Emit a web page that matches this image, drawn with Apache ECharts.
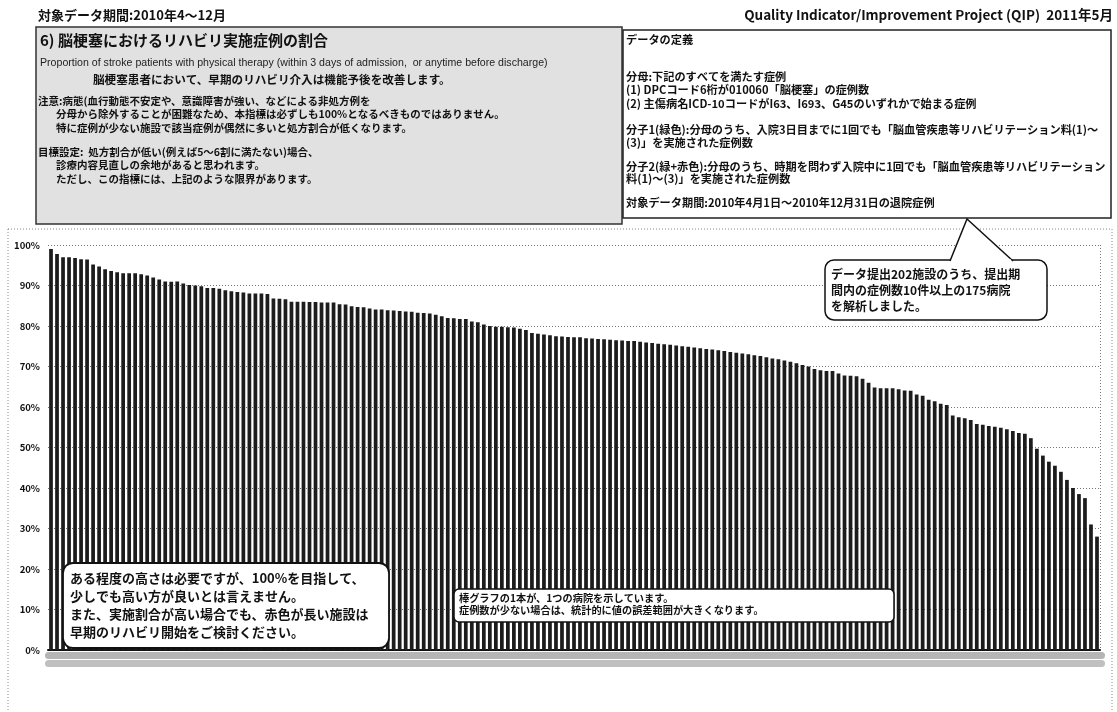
<!DOCTYPE html>
<html><head><meta charset="utf-8">
<script src="https://cdn.jsdelivr.net/npm/echarts@6/dist/echarts.min.js"></script>
<style>html,body{margin:0;padding:0;background:#fff}#c{width:1117px;height:712px}</style>
</head><body><div id="c"></div>
<script>
// ---- data ----
const hospitals = Array.from({length: 175}, (_, i) => 'H' + (i + 1));
const rehabRate = [
  99.0, 97.8, 97.0, 97.0, 96.8, 96.5, 96.4, 95.2, 94.7, 94.0,
  93.6, 93.3, 93.0, 93.0, 93.0, 92.8, 92.5, 92.0, 91.5, 91.0,
  90.9, 91.0, 90.5, 90.1, 90.0, 89.8, 89.4, 89.4, 89.2, 88.8,
  88.6, 88.4, 88.3, 88.0, 88.0, 88.0, 87.9, 86.8, 86.7, 86.6,
  86.0, 86.0, 86.0, 85.9, 85.9, 85.8, 85.8, 85.8, 85.4, 85.3,
  84.9, 84.7, 84.6, 84.3, 84.1, 84.1, 83.9, 83.8, 83.7, 83.6,
  83.5, 83.3, 83.2, 83.1, 82.8, 82.4, 82.0, 81.9, 81.7, 81.7,
  81.1, 80.9, 80.4, 80.0, 79.8, 79.8, 79.7, 79.6, 79.3, 79.0,
  78.3, 78.1, 77.9, 77.7,
  77.5, 77.4, 77.3, 77.2, 77.2, 77.0, 76.9, 76.8, 76.7, 76.6,
  76.5, 76.4, 76.3, 76.3, 76.1, 75.9, 75.8, 75.6, 75.5, 75.4,
  75.2, 75.0, 74.9, 74.7, 74.5, 74.3, 74.2, 74.0, 73.8, 73.6,
  73.4, 73.2, 73.0, 72.8, 72.6, 72.3, 72.0, 71.8, 71.5, 71.2,
  70.8,
  70.4, 70.0, 69.4, 69.1, 68.9, 68.9, 68.3, 67.8, 67.7, 67.6,
  67.0, 66.0, 64.8, 64.6, 64.6, 64.6, 64.4, 64.1, 64.0, 63.1,
  62.8, 61.8, 61.4, 60.8, 60.5, 57.9, 57.5, 57.2, 56.8, 55.8,
  55.6, 55.3, 55.1, 54.9, 54.5, 54.1, 53.6, 53.4, 52.3, 49.7,
  48.0, 46.5, 45.5, 44.0, 42.0, 40.0, 38.5, 37.5, 31.0, 28.0
];
const yTicks = [0, 10, 20, 30, 40, 50, 60, 70, 80, 90, 100];

const headerLeft = '対象データ期間:2010年4～12月';
const headerRight = 'Quality Indicator/Improvement Project (QIP)  2011年5月';
const title = '6) 脳梗塞におけるリハビリ実施症例の割合';
const subtitleEn = 'Proportion of stroke patients with physical therapy (within 3 days of admission,  or anytime before discharge)';
const leadLine = '脳梗塞患者において、早期のリハビリ介入は機能予後を改善します。';
const noteLines = [
  '注意:病態(血行動態不安定や、意識障害が強い、などによる非処方例を',
  '分母から除外することが困難なため、本指標は必ずしも100%となるべきものではありません。',
  '特に症例が少ない施設で該当症例が偶然に多いと処方割合が低くなります。'
];
const goalLines = [
  '目標設定:  処方割合が低い(例えば5～6割に満たない)場合、',
  '診療内容見直しの余地があると思われます。',
  'ただし、この指標には、上記のような限界があります。'
];
const defLines = [
  'データの定義', '',
  '分母:下記のすべてを満たす症例',
  '(1) DPCコード6桁が010060「脳梗塞」の症例数',
  '(2) 主傷病名ICD-10コードがI63、I693、G45のいずれかで始まる症例', '',
  '分子1(緑色):分母のうち、入院3日目までに1回でも「脳血管疾患等リハビリテーション料(1)～',
  '(3)」を実施された症例数', '',
  '分子2(緑+赤色):分母のうち、時期を問わず入院中に1回でも「脳血管疾患等リハビリテーション',
  '料(1)～(3)」を実施された症例数', '',
  '対象データ期間:2010年4月1日～2010年12月31日の退院症例'
];
const bubble1 = ['データ提出202施設のうち、提出期', '間内の症例数10件以上の175病院', 'を解析しました。'];
const bubble2 = ['ある程度の高さは必要ですが、100%を目指して、', '少しでも高い方が良いとは言えません。',
  'また、実施割合が高い場合でも、赤色が長い施設は', '早期のリハビリ開始をご検討ください。'];
const bubble3 = ['棒グラフの1本が、1つの病院を示しています。', '症例数が少ない場合は、統計的に値の誤差範囲が大きくなります。'];

// ---- drawing ----
const FF = '"Noto Sans CJK JP", "Noto Sans", sans-serif';
function txt(s, x, y, size, opts) {
  opts = opts || {};
  return { type: 'text', z: opts.z || 20, style: {
    text: s, x: x, y: y, fontSize: size, fontWeight: opts.weight || 'bold',
    fontFamily: opts.family || FF, fill: opts.fill || '#111',
    textAlign: opts.align || 'left', textVerticalAlign: 'middle',
    fontStyle: opts.style || 'normal'
  }};
}
const g = [];
// chart outer dotted frame
g.push({ type: 'rect', z: 1, shape: { x: 8, y: 229, width: 1104, height: 500 },
  style: { fill: 'none', stroke: '#888', lineWidth: 1, lineDash: [1, 2] } });
// right plot edge
g.push({ type: 'line', z: 2, shape: { x1: 1100.5, y1: 245, x2: 1100.5, y2: 650 },
  style: { stroke: '#777', lineWidth: 1, lineDash: [1, 2] } });
// headers
g.push(txt(headerLeft, 38, 15, 13));
g.push(txt(headerRight, 1113, 15, 13.5, { align: 'right' }));
// left info box
g.push({ type: 'rect', z: 10, shape: { x: 36, y: 27, width: 586, height: 197 },
  style: { fill: '#e1e1e1', stroke: '#333', lineWidth: 1.5 } });
g.push(txt(title, 40, 40, 15));
g.push(txt(subtitleEn, 40, 63, 10.6, { weight: 'normal', family: 'Liberation Sans, Arial, sans-serif', fill: '#222' }));
g.push(txt(leadLine, 93, 80, 11.6));
noteLines.forEach((s, i) => g.push(txt(s, i === 0 ? 38 : 56, 101 + i * 13.5, 10.5)));
goalLines.forEach((s, i) => g.push(txt(s, i === 0 ? 38 : 56, 152 + i * 13.5, 10.5)));
// right definition box
g.push({ type: 'rect', z: 10, shape: { x: 623, y: 30, width: 488, height: 188 },
  style: { fill: '#fff', stroke: '#222', lineWidth: 1.5 } });
const defY = [40, 58, 77, 90, 104, 117, 130, 143, 155, 167, 179, 191, 203];
defLines.forEach((s, i) => { if (s) g.push(txt(s, 626, defY[i], 11.2)); });
// bubble 1 (top right) with pointer
g.push({ type: 'rect', z: 12, shape: { x: 825, y: 260, width: 222, height: 60, r: 9 },
  style: { fill: '#fff', stroke: '#111', lineWidth: 1.5 } });
g.push({ type: 'polyline', z: 13, shape: { points: [[950, 261], [967, 219], [1013, 261]] },
  style: { fill: '#fff', stroke: '#111', lineWidth: 1.5 } });
g.push({ type: 'line', z: 14, shape: { x1: 952, y1: 260.5, x2: 1011, y2: 260.5 },
  style: { stroke: '#fff', lineWidth: 2.5 } });
bubble1.forEach((s, i) => g.push(txt(s, 831, 274 + i * 16, 12, { z: 15 })));
// bubble 2 (bottom left)
g.push({ type: 'rect', z: 12, shape: { x: 63, y: 563, width: 326, height: 85, r: 10 },
  style: { fill: '#fff', stroke: '#111', lineWidth: 1.8 } });
bubble2.forEach((s, i) => g.push(txt(s, 70, 578 + i * 18, 13, { z: 15 })));
// bubble 3 (bottom middle)
g.push({ type: 'rect', z: 12, shape: { x: 454, y: 589, width: 440, height: 33, r: 5 },
  style: { fill: '#fff', stroke: '#111', lineWidth: 1.5 } });
bubble3.forEach((s, i) => g.push(txt(s, 459, 598 + i * 12.5, 10.2, { z: 15 })));
// category label bands (illegible hospital codes in the scan)
g.push({ type: 'rect', z: 3, shape: { x: 45, y: 652, width: 1060, height: 7, r: 3.5 },
  style: { fill: '#b5b5b5' } });
g.push({ type: 'rect', z: 3, shape: { x: 45, y: 660, width: 1060, height: 7, r: 3.5 },
  style: { fill: '#c0c0c0' } });

const chart = echarts.init(document.getElementById('c'), null, { renderer: 'canvas' });
chart.setOption({
  animation: false,
  backgroundColor: '#fff',
  grid: { left: 48, right: 17, top: 245, bottom: 62, containLabel: false },
  xAxis: {
    type: 'category', data: hospitals,
    axisLine: { lineStyle: { color: '#111', width: 2 } },
    axisTick: { show: false }, axisLabel: { show: false }
  },
  yAxis: {
    type: 'value', min: 0, max: 100, interval: 10,
    axisLine: { show: false }, axisTick: { show: false },
    axisLabel: { formatter: v => yTicks.includes(v) ? v + '%' : '', color: '#111', fontSize: 9.5,
      fontWeight: 'bold', fontFamily: FF, margin: 8 },
    splitLine: { lineStyle: { color: '#777', width: 1, type: [1, 2] } }
  },
  series: [{
    type: 'bar', data: rehabRate, barCategoryGap: '38%',
    itemStyle: { color: '#1c1c1c' }, z: 5
  }],
  graphic: g
});
</script></body></html>
